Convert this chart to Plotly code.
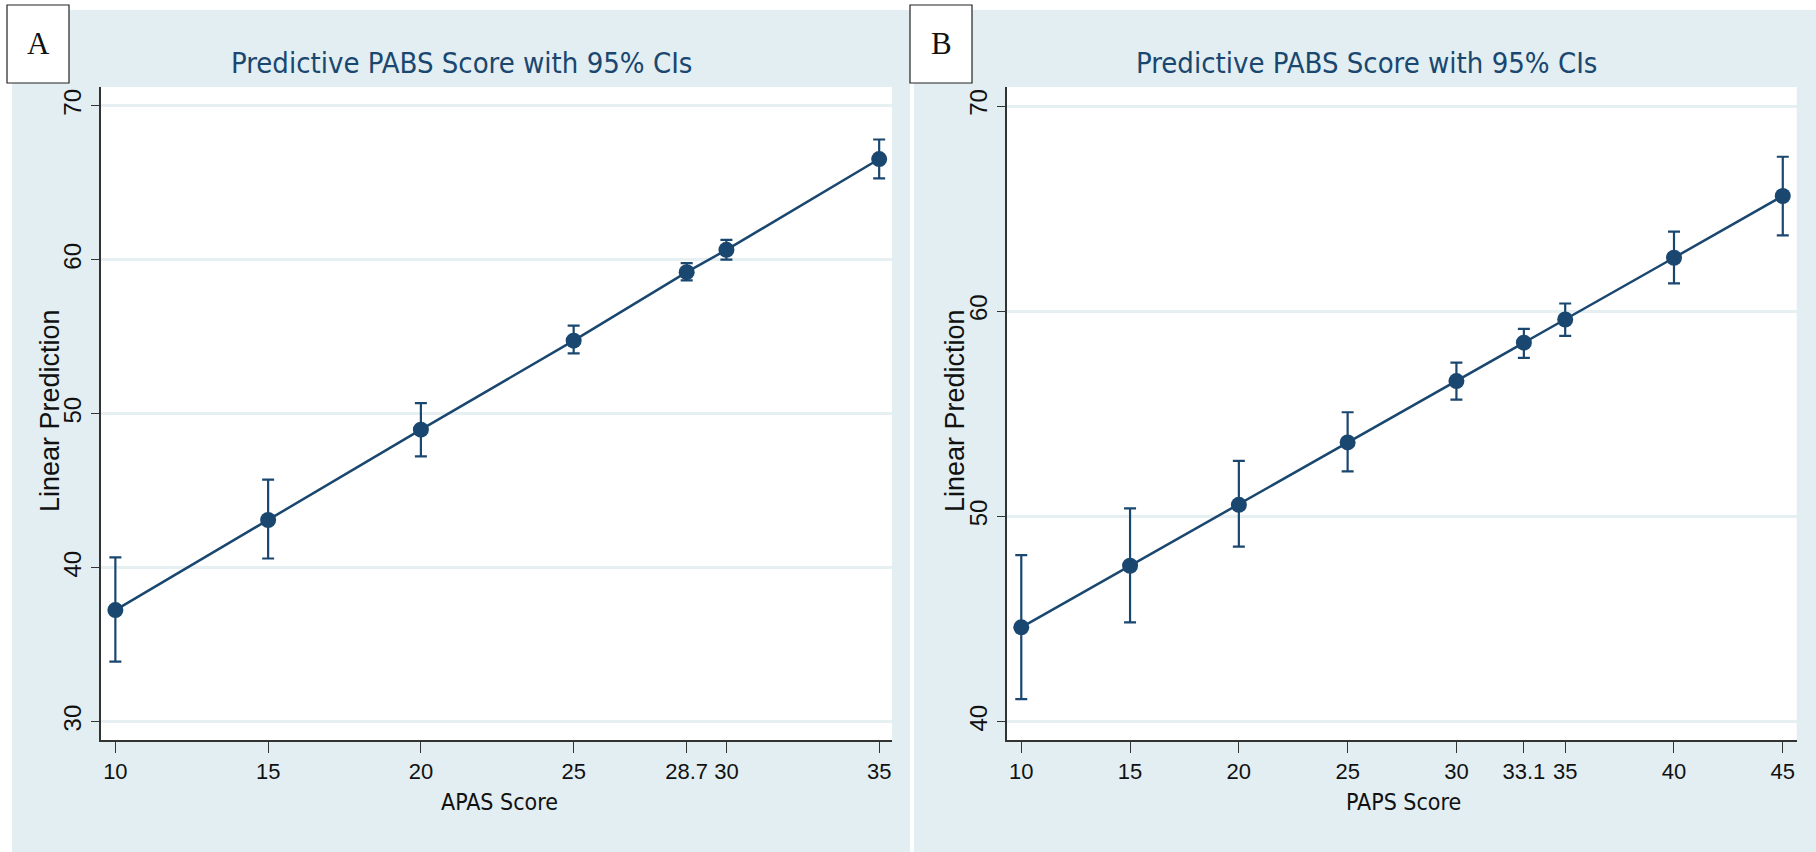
import plotly.graph_objects as go

# ---------------- data ----------------
A_x = [10, 15, 20, 25, 28.7, 30, 35]
A_y = [37.25, 43.1, 48.97, 54.75, 59.2, 60.65, 66.55]
A_lo = [33.9, 40.6, 47.23, 53.93, 58.67, 60.02, 65.29]
A_hi = [40.68, 45.73, 50.7, 55.73, 59.79, 61.3, 67.82]
A_xticks = [10, 15, 20, 25, 28.7, 30, 35]
A_xticktext = ["10", "15", "20", "25", "28.7", "30", "35"]

B_x = [10, 15, 20, 25, 30, 33.1, 35, 40, 45]
B_y = [44.6, 47.6, 50.57, 53.61, 56.6, 58.47, 59.6, 62.61, 65.62]
B_lo = [41.1, 44.84, 48.53, 52.2, 55.7, 57.73, 58.8, 61.36, 63.7]
B_hi = [48.12, 50.4, 52.71, 55.08, 57.5, 59.14, 60.38, 63.88, 67.53]
B_xticks = [10, 15, 20, 25, 30, 33.1, 35, 40, 45]
B_xticktext = ["10", "15", "20", "25", "30", "33.1", "35", "40", "45"]

A_yticks = [30, 40, 50, 60, 70]
B_yticks = [40, 50, 60, 70]

title_text = "Predictive PABS Score with 95% CIs"
ytitle = "Linear Prediction"
A_xtitle = "APAS Score"
B_xtitle = "PAPS Score"

# ---------------- style ----------------
W, H = 1816, 852
NAVY = "#1a476f"
BG = "#e2eef1"
GRID = "#e6eff1"
NARROW = "DejaVu Sans Condensed, Liberation Sans Narrow, Liberation Sans, Arial, sans-serif"
SANS = "Liberation Sans, Arial, sans-serif"

def px(x):
    return x / W

def py(y):
    return 1 - y / H

fig = go.Figure()

def add_series(xs, ys, lo, hi, xa, ya):
    fig.add_trace(go.Scatter(
        x=xs, y=ys, mode="lines+markers",
        line=dict(color=NAVY, width=2.5),
        marker=dict(color=NAVY, size=16, symbol="circle"),
        error_y=dict(type="data", symmetric=False,
                     array=[h - v for h, v in zip(hi, ys)],
                     arrayminus=[v - l for v, l in zip(ys, lo)],
                     color=NAVY, thickness=2.2, width=6),
        xaxis=xa, yaxis=ya, showlegend=False, hoverinfo="skip"))

add_series(A_x, A_y, A_lo, A_hi, "x", "y")
add_series(B_x, B_y, B_lo, B_hi, "x2", "y2")

xcommon = dict(showgrid=False, zeroline=False, showline=True, linecolor="#333333",
               linewidth=1.6, ticks="outside", ticklen=11, tickwidth=1.4,
               tickcolor="#333333", tickfont=dict(family=SANS, size=22, color="#111111"),
               tickmode="array")
ycommon = dict(showgrid=True, gridcolor=GRID, gridwidth=2.5, zeroline=False,
               showline=True, linecolor="#333333", linewidth=1.6, ticks="outside",
               ticklen=8, tickwidth=1.4, tickcolor="#333333", tickangle=-90,
               tickfont=dict(family=SANS, size=24, color="#111111"), tickmode="array")

A_dom_x = [px(100.7), px(892)]
B_dom_x = [px(1006.7), px(1796.7)]
dom_y = [py(740), py(87)]

fig.update_layout(
    width=W, height=H, margin=dict(l=0, r=0, t=0, b=0),
    paper_bgcolor="white", plot_bgcolor="white",
    xaxis=dict(domain=A_dom_x, range=[9.52, 35.42], anchor="y",
               tickvals=A_xticks, ticktext=A_xticktext, **xcommon),
    yaxis=dict(domain=dom_y, range=[28.81, 71.23], anchor="x",
               tickvals=A_yticks, **ycommon),
    xaxis2=dict(domain=B_dom_x, range=[9.33, 45.64], anchor="y2",
                tickvals=B_xticks, ticktext=B_xticktext, **xcommon),
    yaxis2=dict(domain=dom_y, range=[39.11, 70.93], anchor="x2",
                tickvals=B_yticks, **ycommon),
)

shapes = [
    dict(type="rect", xref="paper", yref="paper", x0=px(12), x1=px(910), y0=0, y1=py(10),
         fillcolor=BG, line=dict(width=0), layer="below"),
    dict(type="rect", xref="paper", yref="paper", x0=px(914), x1=1, y0=0, y1=py(10),
         fillcolor=BG, line=dict(width=0), layer="below"),
    dict(type="rect", xref="paper", yref="paper", x0=A_dom_x[0], x1=A_dom_x[1],
         y0=dom_y[0], y1=dom_y[1], fillcolor="white", line=dict(width=0), layer="below"),
    dict(type="rect", xref="paper", yref="paper", x0=B_dom_x[0], x1=B_dom_x[1],
         y0=dom_y[0], y1=dom_y[1], fillcolor="white", line=dict(width=0), layer="below"),
    dict(type="rect", xref="paper", yref="paper", x0=px(7), x1=px(69), y0=py(83), y1=py(5),
         fillcolor="white", line=dict(color="#222222", width=1.2), layer="above"),
    dict(type="rect", xref="paper", yref="paper", x0=px(910), x1=px(972), y0=py(83), y1=py(5),
         fillcolor="white", line=dict(color="#222222", width=1.2), layer="above"),
]
fig.update_layout(shapes=shapes)

ann = []
for label, cx in (("A", 38), ("B", 941)):
    ann.append(dict(text=label, x=px(cx), y=py(44), xref="paper", yref="paper",
                    showarrow=False, xanchor="center", yanchor="middle",
                    font=dict(family="Liberation Serif, Times New Roman, serif", size=31, color="#111111")))
for cx in (462, 1366):
    ann.append(dict(text=title_text, x=px(cx), y=py(63), xref="paper", yref="paper",
                    showarrow=False, xanchor="center", yanchor="middle",
                    font=dict(family=NARROW, size=29, color=NAVY)))
for t, cx in ((A_xtitle, 500), (B_xtitle, 1403)):
    ann.append(dict(text=t, x=px(cx), y=py(802), xref="paper", yref="paper",
                    showarrow=False, xanchor="center", yanchor="middle",
                    font=dict(family=NARROW, size=23, color="#111111")))
for cx in (50, 955):
    ann.append(dict(text=ytitle, x=px(cx), y=py(411), xref="paper", yref="paper",
                    showarrow=False, xanchor="center", yanchor="middle", textangle=-90,
                    font=dict(family=SANS, size=27, color="#111111")))
fig.update_layout(annotations=ann)

fig.write_html("out.html", config={"displayModeBar": False},
               post_script="document.body.style.margin='0';document.body.style.overflow='hidden';")
